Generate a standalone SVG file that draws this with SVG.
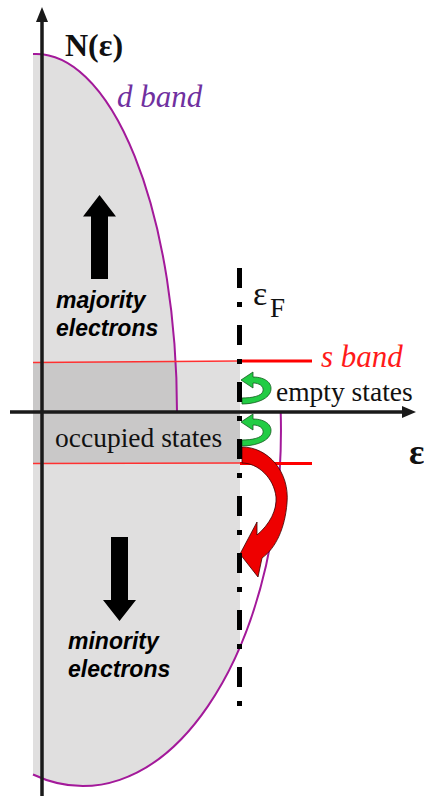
<svg xmlns="http://www.w3.org/2000/svg" width="424" height="796" viewBox="0 0 424 796">
<style>
.serif{font-family:"Liberation Serif","Times New Roman",serif}
.sans{font-family:"Liberation Sans",Arial,sans-serif;font-weight:bold;font-style:italic;font-size:23px;fill:#000}
.light{fill:#e0dfdf}
.dark{fill:#c9c8c8}
.band{fill:none;stroke:#a3199a;stroke-width:2}
.axis{stroke:#1a1a1a;stroke-width:3.5;fill:none}
</style>
<rect width="424" height="796" fill="#fff"/>
<g id="fills">
<path class="light" d="M33 412 L33 54.1 A141 358 0 0 1 177 412 Z"/>
<path class="light" d="M33 412 L240 412 L240 646.9 A198 356 0 0 1 33 774.5 Z"/>
<rect class="light" x="33" y="362" width="207" height="101"/>
<path class="dark" d="M33 362 L175.6 362 A141 358 0 0 1 177 412 L33 412 Z"/>
<rect class="dark" x="33" y="412" width="207" height="51"/>
</g>
<g id="d-band">
<path class="band" d="M33 54.1 A141 358 0 0 1 177 412"/>
<path class="band" d="M280.7 412 A198 356 0 0 1 33 774.5"/>
<text class="serif" x="117" y="107" font-size="31" font-style="italic" fill="#7030a0">d band</text>
</g>
<g id="s-band">
<line x1="33" y1="362.5" x2="240" y2="361" stroke="#ff3030" stroke-width="1.3"/>
<line x1="33" y1="463.5" x2="240" y2="463" stroke="#ff3030" stroke-width="1.3"/>
<line x1="240" y1="361" x2="312" y2="361" stroke="#ff0000" stroke-width="3"/>
<line x1="240" y1="463.5" x2="312" y2="463.5" stroke="#ff0000" stroke-width="3"/>
<text class="serif" x="321" y="367" font-size="31" font-style="italic" fill="#ff1a1a">s band</text>
</g>
<g id="axes">
<line class="axis" x1="42" y1="796" x2="42" y2="18"/>
<polygon points="42,7 48,22 36,22" fill="#1a1a1a"/>
<line class="axis" x1="10" y1="412" x2="405" y2="412"/>
<polygon points="416,412 402,406 402,418" fill="#1a1a1a"/>
<text class="serif" x="65" y="56" font-size="32" font-weight="bold" fill="#111">N(ε)</text>
<text class="serif" x="409" y="464" font-size="36" font-weight="bold" fill="#111">ε</text>
</g>
<g id="majority">
<polygon points="99.5,195 116,216.5 108,216.5 108,279 91,279 91,216.5 83,216.5" fill="#000"/>
<text class="sans" x="56" y="308">majority</text>
<text class="sans" x="56" y="336">electrons</text>
</g>
<g id="minority">
<polygon points="119.5,621 136,600 128,600 128,537 111,537 111,600 103,600" fill="#000"/>
<text class="sans" x="68" y="649">minority</text>
<text class="sans" x="68" y="677">electrons</text>
</g>
<g id="labels">
<text class="serif" x="55" y="447" font-size="27.5" fill="#111">occupied states</text>
<text class="serif" x="276" y="401" font-size="27.5" fill="#111">empty states</text>
<text class="serif" x="253" y="305" font-size="34" fill="#111">ε</text>
<text class="serif" x="270" y="317" font-size="27" fill="#111">F</text>
</g>
<g id="arrows">
<path id="green1" d="M253 377 C266 377 274 384 270 393 C266 401 252 404 242 404 L242 398 C252 398 262 396 263 391 C264 386 259 383 253 383 L253 388 L241 380 L253 372 Z" fill="#22cc44" stroke="#145a1e" stroke-width="0.8"/>
<path id="green2" transform="translate(0,42)" d="M253 377 C266 377 274 384 270 393 C266 401 252 404 242 404 L242 398 C252 398 262 396 263 391 C264 386 259 383 253 383 L253 388 L241 380 L253 372 Z" fill="#22cc44" stroke="#145a1e" stroke-width="0.8"/>
<path id="red" d="M242 447 C268 447 290 472 287 503 C285 528 276 548 262 558 L258 577 L240 554 L257 522 L257 535 C270 524 277 510 276 497 C274 478 258 463 242 463 Z" fill="#ee0000" stroke="#3a0000" stroke-width="0.8"/>
</g>
<g id="fermi">
<line x1="239.5" y1="268" x2="239.5" y2="708" stroke="#000" stroke-width="5" stroke-dasharray="20 14 5 18"/>
</g>
</svg>
